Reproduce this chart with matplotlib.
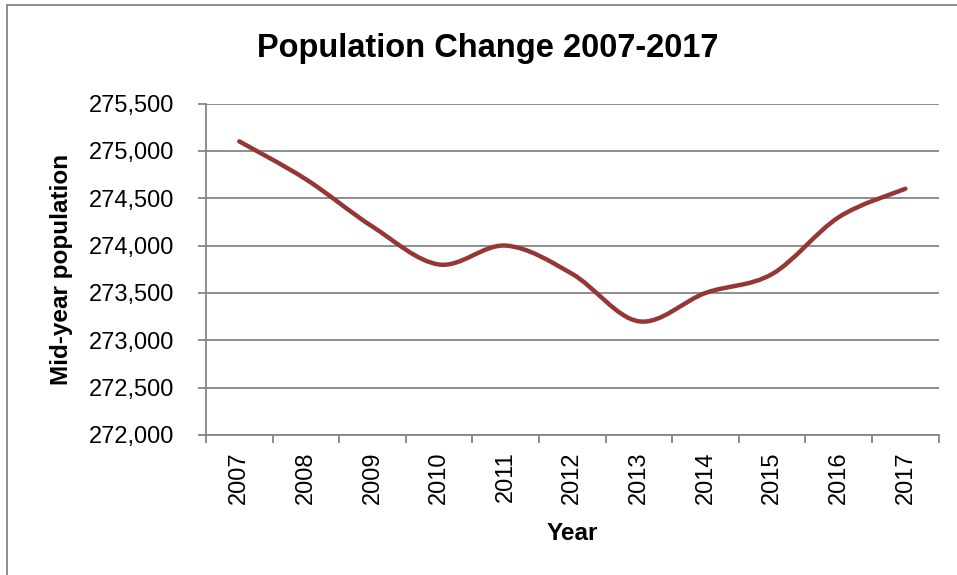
import matplotlib.pyplot as plt
import numpy as np
from matplotlib.path import Path
from matplotlib.patches import PathPatch
from matplotlib.lines import Line2D
from matplotlib.ticker import FuncFormatter

# data
years = ['2007', '2008', '2009', '2010', '2011', '2012', '2013', '2014', '2015', '2016', '2017']
population = [275100, 274700, 274200, 273800, 274000, 273700, 273200, 273500, 273700, 274300, 274600]

grey = '#868686'
red = '#953735'

plt.rcParams['font.family'] = ['Liberation Sans', 'DejaVu Sans']

fig = plt.figure(figsize=(9.57, 5.75), dpi=100)
ax = fig.add_axes([206 / 957, 1 - 435 / 575, (938.7 - 206) / 957, (435 - 103.5) / 575])

# smoothed line (Excel style: cubic bezier, catmull-rom control points)
x = np.arange(len(years), dtype=float)
y = np.array(population, dtype=float)
px = np.concatenate([[x[0]], x, [x[-1]]])
py = np.concatenate([[y[0]], y, [y[-1]]])
verts = [(x[0], y[0])]
codes = [Path.MOVETO]
for i in range(1, len(px) - 2):
    c1 = (px[i] + (px[i + 1] - px[i - 1]) / 6, py[i] + (py[i + 1] - py[i - 1]) / 6)
    c2 = (px[i + 1] - (px[i + 2] - px[i]) / 6, py[i + 1] - (py[i + 2] - py[i]) / 6)
    verts += [c1, c2, (px[i + 1], py[i + 1])]
    codes += [Path.CURVE4] * 3
ax.add_patch(PathPatch(Path(verts, codes), facecolor='none', edgecolor=red,
                       linewidth=3.2, capstyle='round', joinstyle='round', zorder=3))

ax.set_xlim(-0.5, len(years) - 0.5)
ax.set_ylim(272000, 275500)
ax.set_yticks(np.arange(272000, 275501, 500))
ax.yaxis.set_major_formatter(FuncFormatter(lambda v, p: f'{int(v):,}'))

# category ticks between the labels
ax.set_xticks(np.arange(-0.5, len(years), 1.0))
ax.set_xticklabels([])
ax.set_xticks(x, minor=True)
ax.set_xticklabels(years, minor=True, rotation=90, fontsize=17)
ax.tick_params(axis='x', which='minor', length=0, pad=12)
ax.tick_params(axis='x', which='major', length=6, width=1.3, color=grey)
ax.tick_params(axis='y', length=6, width=1.3, color=grey, labelsize=17, pad=16.5)

ax.grid(axis='y', color=grey, linewidth=1.3)
ax.set_axisbelow(True)
for s in ['top', 'right']:
    ax.spines[s].set_visible(False)
for s in ['left', 'bottom']:
    ax.spines[s].set_color(grey)
    ax.spines[s].set_linewidth(1.3)

ax.set_xlabel('Year', fontsize=17.5, fontweight='bold', labelpad=12.5)
ax.set_ylabel('Mid-year population', fontsize=17.5, fontweight='bold', labelpad=12)

fig.text(488 / 957, 1 - 49 / 575, 'Population Change 2007-2017', ha='center', va='center',
         fontsize=23.5, fontweight='bold')

# chart border
fig.add_artist(Line2D([7.5 / 957, 7.5 / 957], [0, 1 - 4.5 / 575], color=grey, linewidth=1.3))
fig.add_artist(Line2D([7.5 / 957, 1], [1 - 4.5 / 575, 1 - 4.5 / 575], color=grey, linewidth=1.3))

fig.savefig('out.png', dpi=100)
